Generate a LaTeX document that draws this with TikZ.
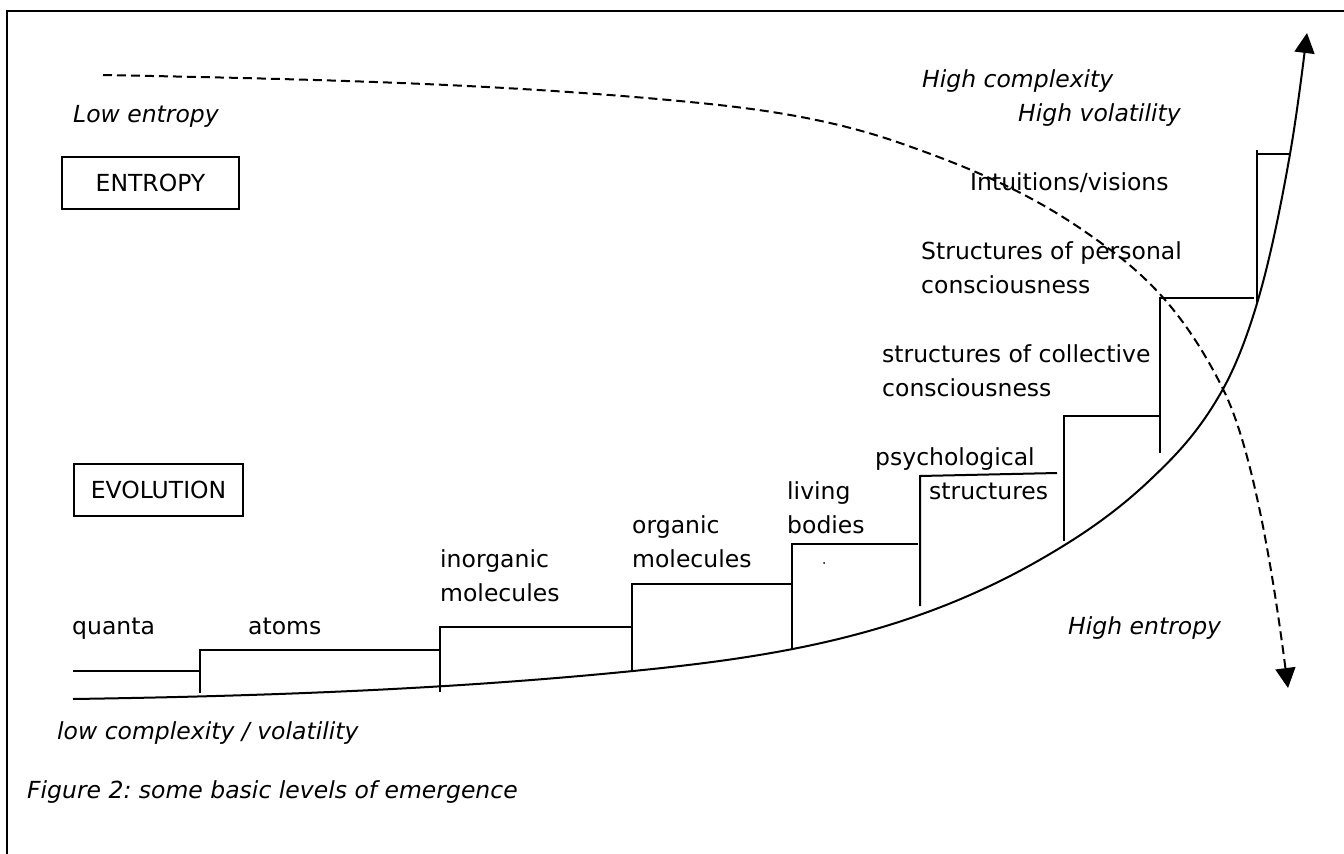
\documentclass[tikz,border=0pt]{standalone}
\usepackage{fontspec}
\setmainfont{DejaVu Sans}
\usetikzlibrary{arrows.meta}
\frenchspacing
\tikzset{
  lbl/.style={anchor=base west, inner sep=0pt, font=\fontsize{23.5}{34}\selectfont, align=left},
  itl/.style={lbl, font=\fontsize{23.5}{34}\selectfont\itshape},
  boxed/.style={draw, line width=1.8pt, inner sep=0pt, font=\fontsize{23.5}{34}\selectfont},
  stepline/.style={line width=2pt},
  curve/.style={line width=2pt},
  tipT/.style={-{Triangle[length=20pt,width=20pt]}}
}
\begin{document}
\begin{tikzpicture}[x=1pt,y=-1pt]
\useasboundingbox (0,0) rectangle (1344,854);
% frame
\draw[line width=2.2pt] (7,854) -- (7,11) -- (1344,11);
% boxes
\node[boxed, minimum width=177pt, minimum height=52pt] (entropy) at (150.5,183) {ENTROPY};
\node[boxed, minimum width=169pt, minimum height=52pt] (evolution) at (158.5,490) {EVOLUTION};
% dashed entropy curve
\coordinate (e0) at (103,75);
\coordinate (e1) at (700,103);
\coordinate (e2) at (900,143);
\coordinate (e3) at (1087,233);
\coordinate (e4) at (1223,389);
\coordinate (e5) at (1288,688);
\draw[curve, tipT, dash pattern=on 9pt off 5pt]
  (e0) .. controls (302,79) and (501,83.1) .. (e1)
       .. controls (766.7,109.7) and (833.3,119.7) .. (e2)
       .. controls (962.3,164.8) and (1024.7,189.4) .. (e3)
       .. controls (1132.3,264.7) and (1177.7,298.3) .. (e4)
       .. controls (1244.7,432.3) and (1266.3,520.9) .. (e5);
% solid evolution curve
\coordinate (v0) at (73,699);
\coordinate (v1) at (633,671);
\coordinate (v3) at (1043,558);
\coordinate (v4) at (1150,480);
\coordinate (v5) at (1223,389);
\coordinate (v6) at (1258,300);
\coordinate (v7) at (1290,154);
\coordinate (v8) at (1307,33);
\draw[curve, tipT]
  (v0) .. controls (259.67,696.2) and (446.33,689.67) .. (v1)
       .. controls (769.67,657.33) and (906.33,637.27) .. (v3)
       .. controls (1078.67,537.31) and (1114.33,513.89) .. (v4)
       .. controls (1174.33,456.88) and (1198.67,432.8) .. (v5)
       .. controls (1234.67,368) and (1246.33,339.67) .. (v6)
       .. controls (1268.67,263.73) and (1279.33,214.8) .. (v7)
       .. controls (1295.67,121.7) and (1301.33,78.3) .. (v8);
% steps
\draw[stepline] (73,671) -- (200,671);
\draw[stepline] (200,693) -- (200,650) -- (440,650);
\draw[stepline] (440,692) -- (440,627) -- (632,627);
\draw[stepline] (632,671) -- (632,584) -- (792,584);
\draw[stepline] (792,650) -- (792,544) -- (918,544);
\draw[stepline] (920,606) -- (920,476) -- (1057,473);
\draw[stepline] (1064,541) -- (1064,416) -- (1160,416);
\draw[stepline] (1160,453) -- (1160,298) -- (1254,298);
\draw[stepline] (1257,302) -- (1257,150);
\draw[stepline] (1257,154) -- (1289,154);
\fill (824,563) circle (1pt);
% labels
\node[itl] (lowent) at (73,122) {Low entropy};
\node[itl] (hicomp) at (922,87) {High complexity};
\node[itl] (hivol) at (1018,121) {High volatility};
\node[lbl] (intu) at (970,190) {Intuitions/visions};
\node[lbl] (pers) at (921,293) {Structures of personal\\consciousness};
\node[lbl] (coll) at (882,396) {structures of collective\\consciousness};
\node[lbl] (psy) at (875,465) {psychological};
\node[lbl] (psy2) at (929,499) {structures};
\node[lbl] (living) at (787,533) {living\\bodies};
\node[lbl] (organic) at (632,567) {organic\\molecules};
\node[lbl] (inorg) at (440,601) {inorganic\\molecules};
\node[lbl] (quanta) at (72,634) {quanta};
\node[lbl] (atoms) at (248,634) {atoms};
\node[itl] (hient) at (1068,634) {High entropy};
\node[itl] (lowcomp) at (57,739) {low complexity / volatility};
\node[itl] (caption) at (27,798) {Figure 2: some basic levels of emergence};
\end{tikzpicture}
\end{document}
